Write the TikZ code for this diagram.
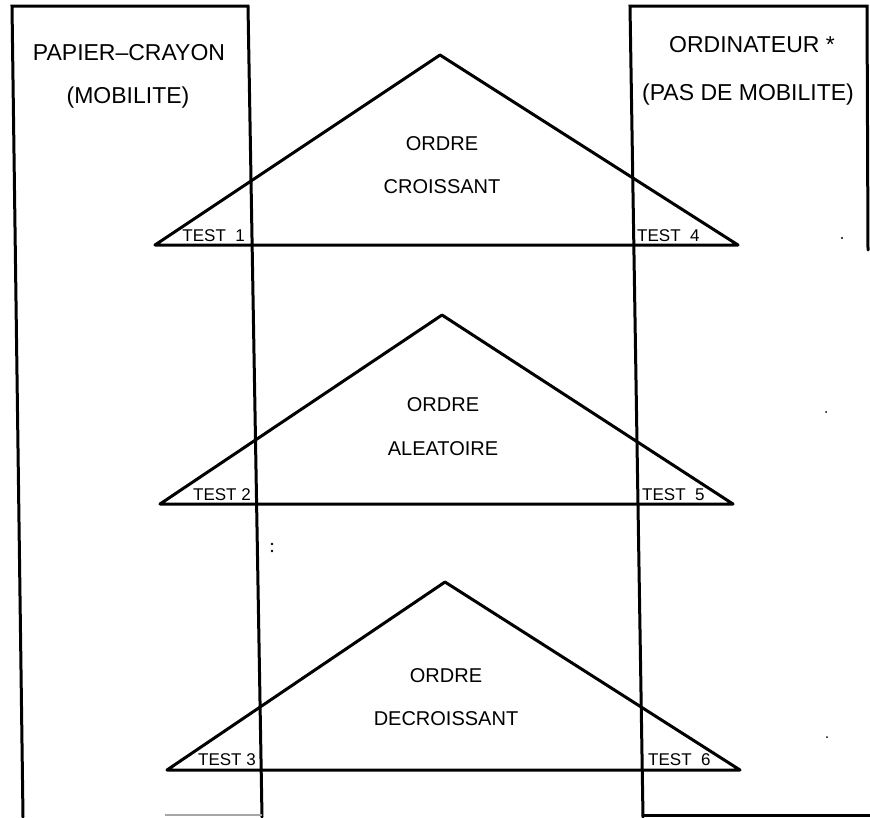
\documentclass[tikz,border=0pt]{standalone}
\usepackage{fontspec}
\setmainfont{Liberation Sans}
\begin{document}
\begin{tikzpicture}[x=1pt,y=-1pt,
  frame/.style={line width=3pt, line cap=round},
  tri/.style={line width=3pt, line join=round},
  head/.style={font=\fontsize{23}{23}\selectfont, inner sep=0pt},
  ordre/.style={font=\fontsize{20}{20}\selectfont, inner sep=0pt},
  testlbl/.style={font=\fontsize{17}{17}\selectfont, inner sep=0pt},
  speck/.style={fill=black, draw=none}]
\useasboundingbox (0,0) rectangle (870,817);

% left box (paper-pencil)
\coordinate (L1) at (23,817);
\coordinate (L2) at (12,6);
\coordinate (L3) at (248,6);
\coordinate (L4) at (262,817);
\draw[frame] (L1) -- (L2) -- (L3) -- (L4);
\coordinate (Lb1) at (165,815);
\coordinate (Lb2) at (262,815);
\draw[line width=1.5pt, black!35] (Lb1) -- (Lb2);

% right box (computer)
\coordinate (R1) at (643,817);
\coordinate (R2) at (630,6);
\coordinate (R3) at (867,6);
\coordinate (R4) at (868,250);
\coordinate (R5) at (870,815);
\coordinate (R6) at (643,815);
\draw[frame] (R1) -- (R2) -- (R3) -- (R4);
\draw[frame] (R6) -- (R5);

% triangles
\coordinate (A1) at (155,245); \coordinate (P1) at (440,55);  \coordinate (B1) at (738,245);
\coordinate (A2) at (160,504); \coordinate (P2) at (442,315); \coordinate (B2) at (733,504);
\coordinate (A3) at (167,770); \coordinate (P3) at (445,582); \coordinate (B3) at (740,770);
\draw[tri] (A1) -- (P1) -- (B1) -- cycle;
\draw[tri] (A2) -- (P2) -- (B2) -- cycle;
\draw[tri] (A3) -- (P3) -- (B3) -- cycle;

% headings
\node[head] (h1) at (129,53) {PAPIER--CRAYON};
\node[head] (h2) at (128,98) {(MOBILITE)};
\node[head] (h3) at (752,45) {ORDINATEUR *};
\node[head] (h4) at (748,95) {(PAS DE MOBILITE)};

% order labels
\node[ordre] (o1a) at (442,144) {ORDRE};
\node[ordre] (o1b) at (442,187) {CROISSANT};
\node[ordre] (o2a) at (443,405) {ORDRE};
\node[ordre] (o2b) at (443,449) {ALEATOIRE};
\node[ordre] (o3a) at (446,676) {ORDRE};
\node[ordre] (o3b) at (446,719) {DECROISSANT};

% test labels
\node[testlbl, anchor=base east] (t1) at (245,241) {TEST\ \ 1};
\node[testlbl, anchor=base east] (t2) at (251,500) {TEST 2};
\node[testlbl, anchor=base east] (t3) at (256,765) {TEST 3};
\node[testlbl, anchor=base west] (t4) at (637,241) {TEST\ \ 4};
\node[testlbl, anchor=base west] (t5) at (642,500) {TEST\ \ 5};
\node[testlbl, anchor=base west] (t6) at (648,765) {TEST\ \ 6};

% specks
\fill[speck] (272,544) circle (1.3pt);
\fill[speck] (272,551) circle (1.3pt);
\fill[speck] (842,238) circle (1.2pt);
\fill[speck] (826,412) circle (1pt);
\fill[speck] (827,737) circle (1pt);
\end{tikzpicture}
\end{document}
